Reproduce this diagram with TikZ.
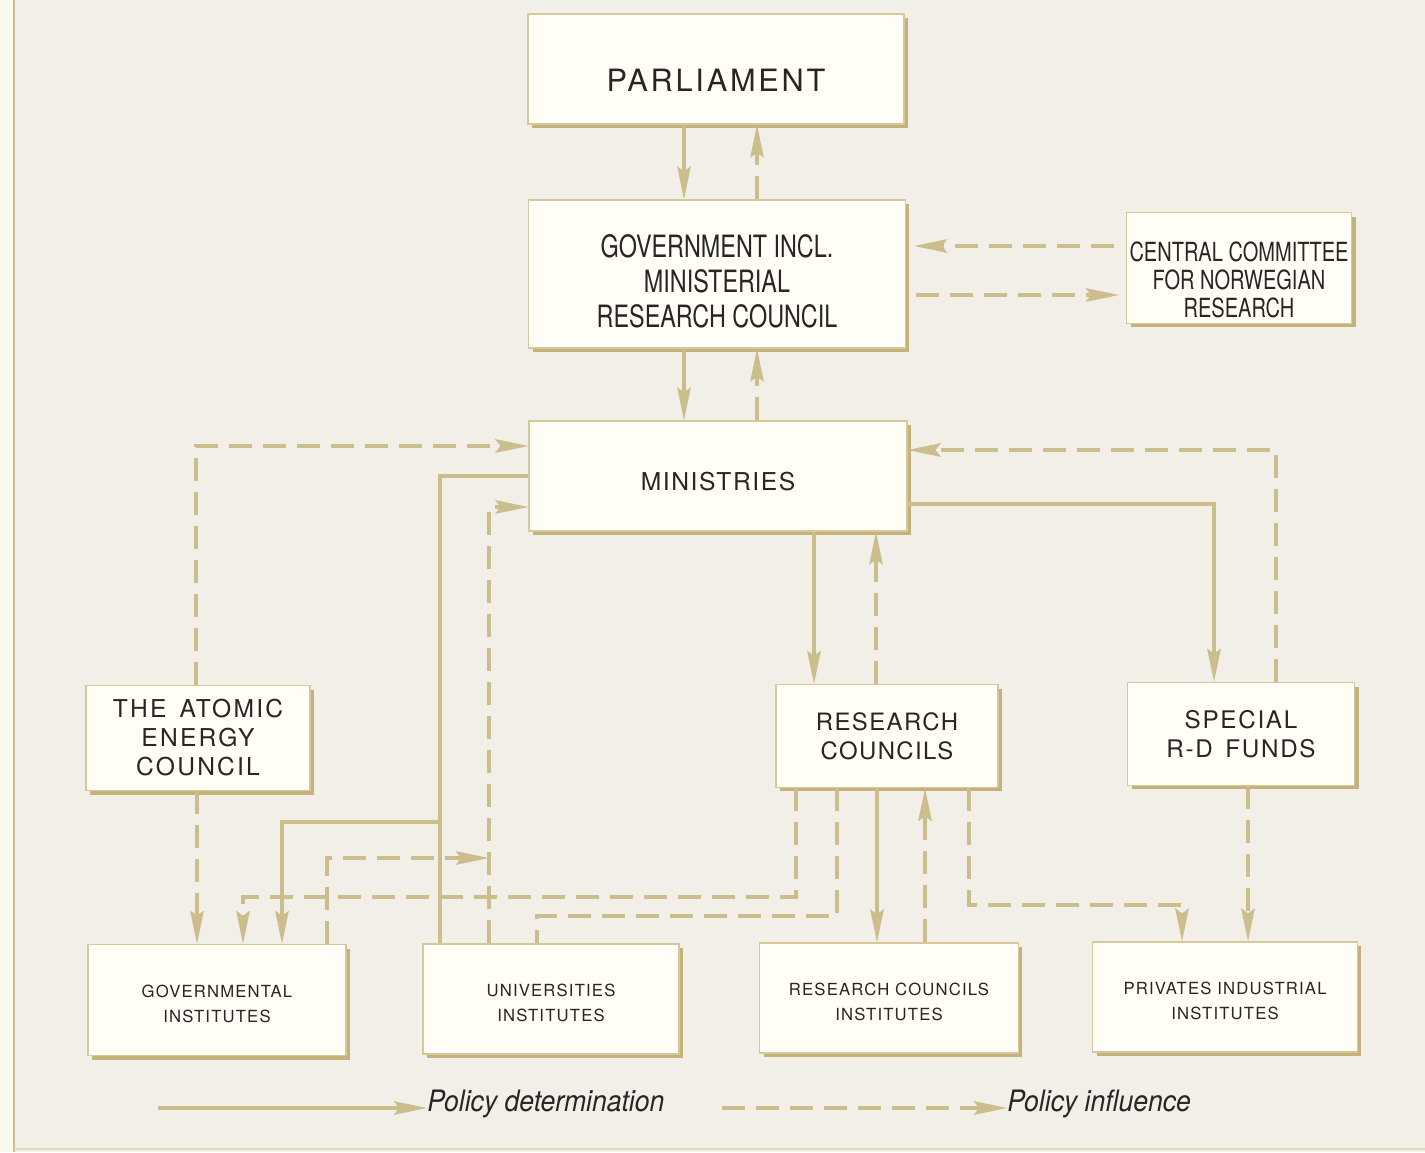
\documentclass[tikz,border=0pt]{standalone}
\usepackage{fontspec}
\setmainfont{TeX Gyre Heros}
\newfontfamily\cnd[FakeStretch=0.76]{TeX Gyre Heros}
\newfontfamily\leg[FakeStretch=0.9]{TeX Gyre Heros}
\newfontfamily\wide[LetterSpace=9]{TeX Gyre Heros}
\newfontfamily\inst[LetterSpace=7]{TeX Gyre Heros}
\usetikzlibrary{arrows.meta,shadows}

\definecolor{bgcol}{RGB}{242,239,233}
\definecolor{margcol}{RGB}{251,249,238}
\definecolor{boxfill}{RGB}{255,253,245}
\definecolor{boxline}{RGB}{214,200,155}
\definecolor{boxshade}{RGB}{196,178,122}
\definecolor{linecol}{RGB}{203,189,140}
\definecolor{ink}{RGB}{40,38,36}

\begin{document}
\begin{tikzpicture}[x=0.02cm, y=-0.02cm,
  top/.style={draw=boxline, line width=0.7pt, fill=boxfill, inner sep=0pt, align=center, text=ink,
    drop shadow={shadow xshift=0.08cm, shadow yshift=-0.08cm, fill=boxshade, opacity=1}},
  med/.style={top, font={\wide\fontsize{14}{16.5}\selectfont}},
  fin/.style={top, font={\inst\fontsize{9.5}{14}\selectfont}},
  legtext/.style={anchor=west, inner sep=0pt, text=ink, font={\leg\itshape\fontsize{16.8}{19}\selectfont}}
]

\tikzstyle{det}=[draw=linecol, line width=1.8pt, -{Stealth[length=0.66cm, width=0.27cm, inset=0.1cm]}]
\tikzstyle{inf}=[det, dash pattern=on 0.46cm off 0.22cm]

\useasboundingbox (0,0) rectangle (1425,1152);
\fill[bgcol] (0,0) rectangle (1425,1152);
\fill[margcol] (0,0) rectangle (13,1152);
\draw[linecol, line width=1.3pt] (14,0) -- (14,1152);
\draw[linecol!60, line width=0.8pt] (14,1149) -- (1425,1149);

\node[top, minimum width=7.52cm, minimum height=2.2cm, text height=0.9cm, font={\wide\fontsize{17.5}{20}\selectfont}] (parl) at (716,69) {PARLIAMENT};
\node[top, minimum width=7.54cm, minimum height=2.96cm, font={\cnd\fontsize{17.5}{19.8}\selectfont}] (gov) at (717,274) {\rule{0pt}{0.74cm}GOVERNMENT INCL.\\MINISTERIAL\\RESEARCH COUNCIL};
\node[top, minimum width=4.5cm, minimum height=2.22cm, font={\cnd\fontsize{15}{16}\selectfont}] (ccnr) at (1239,268) {\rule{0pt}{0.86cm}CENTRAL COMMITTEE\\FOR NORWEGIAN\\RESEARCH};
\node[top, minimum width=7.56cm, minimum height=2.2cm, text height=0.58cm, font={\wide\fontsize{14}{16.5}\selectfont\addfontfeature{LetterSpace=6.5}}] (mins) at (718,476) {MINISTRIES};

\node[med, minimum width=4.48cm, minimum height=2.1cm] (aec) at (198,738) {THE\, ATOMIC\\ENERGY\\COUNCIL};
\node[med, minimum width=4.44cm, minimum height=2.06cm, font={\wide\fontsize{13.6}{16.5}\selectfont\addfontfeature{LetterSpace=6}}] (rc) at (887,736) {RESEARCH\\COUNCILS};
\node[med, minimum width=4.54cm, minimum height=2.06cm, font={\wide\fontsize{13.8}{16.5}\selectfont\addfontfeature{LetterSpace=7}}] (rdf) at (1241,734) {SPECIAL\\R-D\, FUNDS};

\node[fin, minimum width=5.16cm, minimum height=2.22cm] (gi) at (217,1000) {\rule{0pt}{0.4cm}GOVERNMENTAL\\INSTITUTES};
\node[fin, minimum width=5.12cm, minimum height=2.2cm] (ui) at (551,999) {\rule{0pt}{0.4cm}UNIVERSITIES\\INSTITUTES};
\node[fin, minimum width=5.18cm, minimum height=2.2cm] (rci) at (889,998) {\rule{0pt}{0.4cm}RESEARCH COUNCILS\\INSTITUTES};
\node[fin, minimum width=5.3cm, minimum height=2.2cm] (pii) at (1225,997) {\rule{0pt}{0.4cm}PRIVATES INDUSTRIAL\\INSTITUTES};

% lanes and bends
\coordinate (l1) at (684,0);
\coordinate (l2) at (757,0);
\coordinate (h1) at (0,246);
\coordinate (h2) at (0,295);
\coordinate (a1) at (196,446);
\coordinate (ka) at (440,822);
\coordinate (kb) at (282,822);
\coordinate (u1) at (489,507);
\coordinate (g1) at (327,858);
\coordinate (r1) at (796,897);
\coordinate (r2) at (243,897);
\coordinate (r3) at (837,916);
\coordinate (r4) at (537,916);
\coordinate (r5) at (969,905);
\coordinate (r6) at (1182,905);
\coordinate (l3) at (814,0);
\coordinate (l4) at (876,0);
\coordinate (l5) at (877,0);
\coordinate (l6) at (925,0);
\coordinate (l7) at (1248,0);
\coordinate (l8) at (197,0);
\coordinate (s1) at (1214,504);
\coordinate (s2) at (1276,450);

\draw[det] (parl.south -| l1) -- (gov.north -| l1);
\draw[inf] (gov.north -| l2) -- (parl.south -| l2);
\draw[inf, shorten <=0.24cm, shorten >=0.16cm] (ccnr.west |- h1) -- (gov.east |- h1);
\draw[inf, shorten <=0.2cm, shorten >=0.14cm] (gov.east |- h2) -- (ccnr.west |- h2);
\draw[det] (gov.south -| l1) -- (mins.north -| l1);
\draw[inf] (mins.north -| l2) -- (gov.south -| l2);

\draw[inf] (aec.north -| a1) -- (a1) -- (mins.west |- a1);
\draw[det, -] (mins.west) -- (mins.west -| ka) -- (ui.north -| ka);
\draw[det] (ka) -- (kb) -- (gi.north -| kb);
\draw[inf] (ui.north -| u1) -- (u1) -- (mins.west |- u1);
\draw[inf] (gi.north -| g1) -- (g1) -- (u1 |- g1);
\draw[inf] (aec.south -| l8) -- (gi.north -| l8);

\draw[det] (mins.south -| l3) -- (rc.north -| l3);
\draw[inf] (rc.north -| l4) -- (mins.south -| l4);
\draw[det] (mins.east |- s1) -- (s1) -- (rdf.north -| s1);
\draw[inf] (rdf.north -| s2) -- (s2) -- (mins.east |- s2);

\draw[inf] (rc.south -| r1) -- (r1) -- (r2) -- (gi.north -| r2);
\draw[inf, -] (rc.south -| r3) -- (r3) -- (r4) -- (ui.north -| r4);
\draw[det] (rc.south -| l5) -- (rci.north -| l5);
\draw[inf] (rci.north -| l6) -- (rc.south -| l6);
\draw[inf] (rc.south -| r5) -- (r5) -- (r6) -- (pii.north -| r6);
\draw[inf] (rdf.south -| l7) -- (pii.north -| l7);

\node[legtext] (ldet) at (427,1104) {Policy determination};
\node[legtext] (linf) at (1007,1104) {Policy influence};
\coordinate (ld0) at (158,1108);
\coordinate (li0) at (722,1108);
\draw[det] (ld0) -- (ld0 -| ldet.west);
\draw[inf] (li0) -- (li0 -| linf.west);

\end{tikzpicture}
\end{document}
